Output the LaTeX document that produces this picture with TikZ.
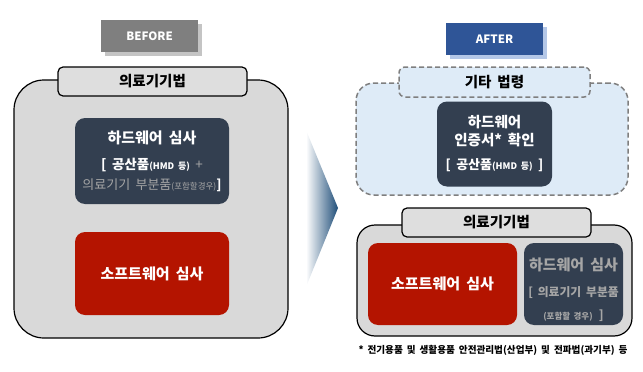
\documentclass[tikz,border=0pt]{standalone}
\usepackage{fontspec}
\setmainfont[WordSpace=1.8]{Noto Sans CJK KR}
\usetikzlibrary{shadows}
\definecolor{panelgray}{HTML}{D9D9D9}
\definecolor{tabgray}{HTML}{DEDEDE}
\definecolor{navybox}{HTML}{333F50}
\definecolor{redbox}{HTML}{B41400}
\definecolor{paleblue}{HTML}{DEEBF7}
\definecolor{dashgray}{HTML}{7F7F7F}
\definecolor{txtgray}{HTML}{A6A6A6}
\definecolor{beforegray}{HTML}{7F7F7F}
\definecolor{beforeshadow}{HTML}{C4C4C4}
\definecolor{afterblue}{HTML}{2F5597}
\definecolor{aftershadow}{HTML}{B4C7E7}
\definecolor{arrowblue}{HTML}{1F4E79}
\begin{document}
\begin{tikzpicture}[
        x=1pt, y=-1pt,
        every node/.style={align=center, inner sep=0pt},
        panel/.style={draw=black, line width=1.2pt, fill=panelgray, rounded corners=#1},
        panel/.default=18pt,
        lawtab/.style={draw=black, line width=1.2pt, fill=tabgray, rounded corners=5pt, minimum width=189pt, minimum height=29pt, font=\bfseries\fontsize{14.5}{16}\selectfont},
        navy/.style={fill=navybox, rounded corners=10pt, text=white, font=\bfseries\fontsize{15}{17}\selectfont},
        redpanel/.style={fill=redbox, rounded corners=10pt, text=white, font=\bfseries\fontsize{15}{17}\selectfont},
        stage/.style={minimum width=97pt, minimum height=32pt, text=white, font=\bfseries\fontsize{11.5}{13}\selectfont, drop shadow={shadow xshift=4pt, shadow yshift=-4pt, fill=#1, opacity=1}},
        dashedpanel/.style={draw=dashgray, line width=1.5pt, dash pattern=on 5pt off 3pt, fill=paleblue, rounded corners=#1}
    ]
        \useasboundingbox (0,0) rectangle (643,372);

        \node[stage=beforeshadow, fill=beforegray] (before) at (149.5,36) {BEFORE};
        \node[panel=30pt, minimum width=274pt, minimum height=258pt] (oldlaw) at (151,209) {};
        \node[lawtab] (oldtab) at (152.5,81.5) {의료기기법};
        \node[navy, minimum width=154pt, minimum height=86pt] (oldhw) at (152,161) {하드웨어 심사\\[9pt]
            {\fontsize{13.5}{15}\selectfont[ 공산품{\fontsize{9}{10}\selectfont(HMD 등)} {\mdseries\color{txtgray}+}}\\[3pt]
            {\mdseries\fontsize{13}{15}\selectfont\color{txtgray}의료기기 부분품{\fontsize{8.5}{10}\selectfont(포함할경우)}}{\fontsize{13}{15}\selectfont]}};
        \node[redpanel, minimum width=154pt, minimum height=83pt] (oldsw) at (152,273.5) {소프트웨어 심사};

        \shade[left color=white, right color=arrowblue] (306,130) -- (338,208) -- (306,287) -- cycle;

        \node[stage=aftershadow, fill=afterblue] (after) at (494.5,39) {AFTER};
        \node[dashedpanel=18pt, minimum width=272pt, minimum height=112pt] (otherlaw) at (492,139) {};
        \node[dashedpanel=6pt, minimum width=191pt, minimum height=30pt, font=\bfseries\fontsize{14.5}{16}\selectfont] (othertab) at (494.5,82) {기타 법령};
        \node[navy, minimum width=115pt, minimum height=85pt, font=\bfseries\fontsize{14.5}{17.5}\selectfont] (cert) at (494.5,144) {하드웨어\\인증서* 확인\\[7pt]
            {\fontsize{13}{15}\selectfont[ 공산품{\fontsize{9}{10}\selectfont(HMD 등)} ]}};
        \node[panel, minimum width=275pt, minimum height=111pt] (newlaw) at (494.5,280.5) {};
        \node[lawtab] (newtab) at (496.5,222.5) {의료기기법};
        \node[navy, minimum width=99pt, minimum height=82pt, text=txtgray] (newhw) at (573.5,284) {\rule{0pt}{24pt}하드웨어 심사\\[9pt]
            {\fontsize{11.8}{14}\selectfont[ 의료기기 부분품}\\[6pt]
            {\fontsize{8.5}{10}\selectfont(포함할 경우)} {\fontsize{12}{14}\selectfont]}};
        \node[redpanel, minimum width=149pt, minimum height=82pt] (newsw) at (442.5,284) {소프트웨어 심사};
        \node[font=\bfseries\fontsize{9.6}{12}\selectfont] (note) at (493,350) {* 전기용품 및 생활용품 안전관리법(산업부) 및 전파법(과기부) 등};
    \end{tikzpicture}
\end{document}
